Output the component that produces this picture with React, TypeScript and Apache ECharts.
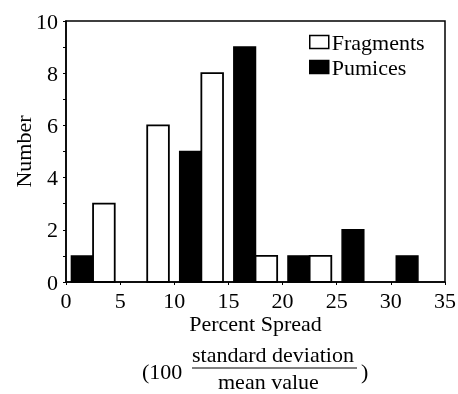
import React, { useEffect, useRef } from "react";
import * as echarts from "echarts";

const binStarts = [0, 5, 10, 15, 20, 25, 30];
const pumices = [1, 0, 5, 9, 1, 2, 1];
const fragments = [3, 6, 8, 1, 1, 0, 0];
const xTicks = { min: 0, max: 35, interval: 5 };
const yTicks = { min: 0, max: 10, interval: 2 };

const FONT = "Liberation Serif";

export default function App() {
  const ref = useRef<HTMLDivElement>(null);
  useEffect(() => {
    if (!ref.current) return;
    const chart = echarts.init(ref.current, undefined, { renderer: "svg" });
    const pumData = binStarts.map((s, i) => [s + 0.5, s + 2.5, pumices[i]]);
    const fragData = binStarts.map((s, i) => [s + 2.5, s + 4.5, fragments[i]]);
    const renderItem = (params: any, api: any) => {
      const x0 = api.value(0);
      const x1 = api.value(1);
      const v = api.value(2);
      if (!v) return null;
      const p0 = api.coord([x0, 0]);
      const p1 = api.coord([x1, v]);
      return {
        type: "rect",
        shape: { x: p0[0], y: p1[1], width: p1[0] - p0[0], height: p0[1] - p1[1] },
        style: api.style(),
      };
    };
    chart.setOption({
      animation: false,
      grid: {
        left: 66,
        right: 13,
        top: 21,
        bottom: 112,
        containLabel: false,
        outerBoundsMode: "none",
        show: true,
        borderColor: "#000",
        borderWidth: 1.5,
        backgroundColor: "transparent",
      },
      legend: {
        orient: "vertical",
        left: 309,
        top: 31,
        padding: 0,
        itemWidth: 19,
        itemHeight: 13,
        itemGap: 3,
        textStyle: { fontFamily: FONT, fontSize: 22, color: "#000", padding: [0, 0, 0, -2] },
        data: [
          { name: "Fragments", icon: "rect", itemStyle: { color: "#fff", borderColor: "#000", borderWidth: 1.5 } },
          { name: "Pumices", icon: "rect", itemStyle: { color: "#000", borderColor: "#000", borderWidth: 1.5 } },
        ],
      },
      xAxis: {
        type: "value",
        min: xTicks.min,
        max: xTicks.max,
        interval: xTicks.interval,
        name: "Percent Spread",
        nameLocation: "middle",
        nameGap: 30,
        nameMoveOverlap: false,
        nameTextStyle: { fontFamily: FONT, fontSize: 22, color: "#000" },
        axisLine: { lineStyle: { color: "#000", width: 1.5 } },
        axisTick: { show: true, length: 3, lineStyle: { color: "#000", width: 1 } },
        axisLabel: { fontFamily: FONT, fontSize: 22, color: "#000", margin: 7 },
        splitLine: { show: false },
      },
      yAxis: {
        type: "value",
        min: yTicks.min,
        max: yTicks.max,
        interval: yTicks.interval,
        name: "Number",
        nameLocation: "middle",
        nameGap: 32,
        nameMoveOverlap: false,
        nameTextStyle: { fontFamily: FONT, fontSize: 22, color: "#000" },
        axisLine: { show: true, lineStyle: { color: "#000", width: 1.5 } },
        axisTick: { show: true, length: 3, lineStyle: { color: "#000", width: 1 } },
        minorTick: { show: true, splitNumber: 2, length: 3, lineStyle: { color: "#000", width: 1 } },
        axisLabel: { fontFamily: FONT, fontSize: 22, color: "#000", margin: 8 },
        splitLine: { show: false },
      },
      series: [
        {
          name: "Pumices",
          type: "custom",
          renderItem,
          encode: { x: [0, 1], y: 2 },
          itemStyle: { color: "#000", borderColor: "#000", borderWidth: 1.5 },
          data: pumData,
          z: 2,
        },
        {
          name: "Fragments",
          type: "custom",
          renderItem,
          encode: { x: [0, 1], y: 2 },
          itemStyle: { color: "#fff", borderColor: "#000", borderWidth: 1.8 },
          data: fragData,
          z: 3,
        },
      ],
      graphic: [
        { type: "text", left: 142, top: 360, style: { text: "(100", fontFamily: FONT, fontSize: 22, fill: "#000" } },
        { type: "text", left: 192, top: 343, style: { text: "standard deviation", fontFamily: FONT, fontSize: 22, fill: "#000" } },
        { type: "line", shape: { x1: 192, y1: 368, x2: 357, y2: 368 }, style: { stroke: "#000", lineWidth: 1 } },
        { type: "text", left: 218, top: 370, style: { text: "mean value", fontFamily: FONT, fontSize: 22, fill: "#000" } },
        { type: "text", left: 361, top: 360, style: { text: ")", fontFamily: FONT, fontSize: 22, fill: "#000" } },
      ],
    });
    return () => chart.dispose();
  }, []);
  return <div ref={ref} style={{ position: "fixed", left: 0, top: 0, width: 458, height: 394 }} />;
}
